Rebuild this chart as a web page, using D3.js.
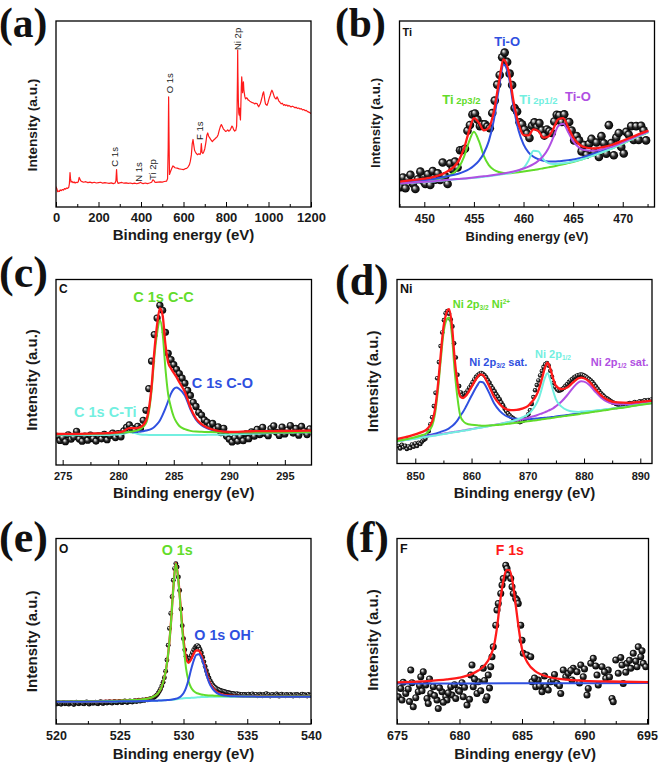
<!DOCTYPE html>
<html><head><meta charset="utf-8">
<script src="https://cdn.jsdelivr.net/npm/d3@7"></script>
<style>
body{margin:0;background:#fff;}
svg{display:block;font-family:"Liberation Sans",Arial,sans-serif;}
text{white-space:pre;}
</style></head><body>
<script>
// ---------------- DATA ----------------
// (a) survey spectrum [energy eV, intensity a.u.]
const aSpectrum = [[0,10.8],[4,9.8],[8,8.2],[12,8.6],[16,8.4],[20,9.2],[25,8.8],[30,9.4],[35,9.1],[40,9.9],[45,9.6],[50,10.2],[55,10.0],[60,10.6],[63,12.5],[66,18.5],[68,15.5],[71,13.4],[75,13.8],[80,13.1],[85,13.5],[90,12.9],[95,13.3],[100,13.1],[105,13.6],[109,15.9],[112,15.2],[116,14.1],[120,13.8],[130,13.3],[140,13.6],[150,13.1],[160,13.4],[170,13.0],[180,13.3],[190,12.9],[200,13.1],[210,13.3],[220,12.8],[230,13.1],[240,12.9],[250,12.7],[260,13.0],[270,12.6],[278,12.9],[282,14.2],[285,20.1],[288,14.0],[292,12.7],[300,13.0],[310,13.2],[320,12.8],[330,13.0],[340,12.7],[350,12.9],[360,12.6],[370,12.8],[380,12.5],[390,12.8],[398,13.3],[402,12.9],[410,12.6],[420,12.9],[430,12.6],[440,12.9],[450,13.3],[456,14.6],[460,14.4],[465,13.4],[470,13.2],[480,13.4],[490,13.5],[500,13.4],[510,13.7],[520,13.9],[525,15.2],[528,32],[530,59.2],[532,36],[534,17.5],[538,18.8],[545,20.8],[550,22.1],[555,21.6],[560,21.1],[570,20.9],[580,20.5],[590,20.3],[600,20.1],[608,20.6],[615,20.8],[622,21.6],[628,22.8],[632,24.5],[637,28],[641,34],[645,36.3],[648,33.5],[652,30.5],[656,29.6],[660,28.8],[666,28.1],[672,28.6],[678,28.2],[681,29.5],[684,34.1],[687,29.4],[691,28.8],[695,29.6],[700,31.2],[705,34.5],[710,38.6],[714,39.8],[718,38.2],[722,37.4],[727,36.5],[732,35.6],[736,35.2],[741,35.9],[746,36.4],[752,37.1],[758,37.7],[763,38.9],[768,41.2],[773,43.1],[778,44.3],[783,43.2],[788,41.9],[793,41.3],[798,40.6],[803,40.9],[808,41.5],[813,40.8],[818,41.1],[823,42.2],[828,43.5],[831,43.1],[836,41.6],[841,40.8],[846,41.2],[850,43.5],[852,52],[854,70],[855,84.4],[856,72],[858,58],[860,50.6],[862,49.4],[864,53.2],[866,48.9],[868,46.8],[870,55],[872,64],[874,70],[876,66],[878,61.5],[880,65.3],[882,67.3],[884,63],[886,61.4],[889,59.2],[892,58.1],[896,58.7],[900,58.4],[904,57.6],[907,57.4],[912,56.9],[918,56.5],[924,56.1],[930,55.9],[935,55.4],[940,55.8],[946,55.6],[950,54.6],[954,53.9],[958,54.8],[962,55.7],[966,57.4],[970,59.2],[974,61.2],[977,61.9],[980,59.6],[983,57.1],[986,55.4],[990,55],[993,54.7],[997,55.9],[1000,57.2],[1004,58.8],[1008,60.1],[1012,61.7],[1016,62.8],[1020,61.8],[1024,60.4],[1028,59],[1032,58.4],[1036,58.1],[1040,59.2],[1044,58.3],[1048,57.1],[1052,56.6],[1056,56],[1060,55.5],[1065,55.8],[1071,54.7],[1076,55.1],[1081,54.5],[1086,54.9],[1091,54.2],[1096,54.6],[1100,54.3],[1106,53.8],[1112,54.2],[1118,53.9],[1124,53.4],[1130,53.6],[1136,53],[1142,53.2],[1148,52.7],[1154,52.9],[1160,52.2],[1166,52.4],[1172,51.8],[1178,51.9],[1184,51.3],[1190,51],[1195,50.7],[1200,50.3]];
const aPeakLabels = [["C 1s",277.6,21.7],["N 1s",387.3,13.6],["Ti 2p",455,14.5],["O 1s",533.2,61.1],["F 1s",674.4,36],["Ni 2p",853.2,84.4]];

// (b) Ti 2p
const bGrid = [447.5,449,450.5,452,453,453.5,454,454.5,455,455.5,456,456.5,457,457.5,458,458.5,459,459.5,460,460.5,461,461.5,462,462.5,463,463.5,464,464.5,465,465.5,466,467,468,469,470,471,472.5];
const bTi2p32 = [12.8,13.4,14.2,16.0,18.5,21.5,27,35,40.5,35.5,27.5,22.5,20,18.8,18.3,18.2,18.4,18.7,19.1,19.5,19.9,20.3,20.8,21.3,21.8,22.4,23,23.6,24.2,25,25.8,27.7,29.6,31.7,34.1,36.6,40];
const bTiO1 = [13.1,13.9,14.7,16.1,17.3,18,19,20.3,22.2,24.8,28.9,35.4,46.5,63.1,76.6,70.4,53.7,41.1,33.7,29.4,27,25.7,24.9,24.5,24.5,24.6,24.9,25.2,25.5,26.1,26.8,28.5,30.3,32.2,34.6,37,40.4];
const bTi2p12 = [12.6,13.1,13.6,14.3,14.8,15,15.2,15.4,15.7,15.9,16.3,16.5,16.9,17.3,17.7,18.1,18.8,19.7,21,24.9,30.3,29.9,25.6,23.6,23.1,23.2,23.5,23.9,24.4,25.1,25.8,27.6,29.6,31.6,34.1,36.6,40];
const bTiO2 = [12.6,13.2,13.7,14.4,14.9,15.1,15.3,15.6,15.9,16.2,16.5,16.8,17.2,17.6,18,18.5,19.1,19.8,20.7,21.7,23,24.9,27.5,31.5,37.4,43.6,44.8,40.3,35.4,32.4,30.8,30.3,31.2,32.6,34.8,37.1,40.4];
const bFit = [13.6,14.6,15.7,18.2,21.7,25.2,31.5,40.7,47.8,45.3,41.2,42.6,51.1,66.4,79.3,73,56.6,44.7,38.7,38.5,41.7,40.8,37.3,37.9,42,47.2,47.8,42.8,37.5,34.2,32.4,31.5,32.2,33.6,35.6,37.8,40.9];
const bRawStart = 447.6, bRawStep = 0.25;
const bRaw = [10.7,15.9,10.1,15.2,17.3,12.5,9.7,14.9,19,14.2,12.4,17.6,11.8,19.3,14.7,18.1,14.5,23.9,16.5,12.4,23.3,20.2,24.4,21.2,30.5,30.6,31.3,41,44.1,49.7,50.3,47,43.5,44.4,44.5,43.2,42.3,50.5,57.2,65.8,71,80.5,83,78,71.7,65.6,53.2,51.3,45.5,44.5,41.7,39.5,37.1,43.7,45.5,43.1,45.1,41.3,38.4,41.7,40.7,39.8,46,49.6,49.3,45.7,49.8,45.3,45.7,41.1,35.8,38.2,35.8,29.9,33.3,28.1,33.9,36.6,29.6,34.7,26.9,38.1,34.3,28.7,44,34.4,27.8,37.3,39.8,32.3,28.8,40.4,38.9,43.5,36,43.5,36.1,43.7,41.2,35.8];

// (c) C 1s
const cGrid = [274.4,276,278,279,280,280.5,281,281.5,282,282.5,283,283.25,283.5,283.75,284,284.25,284.5,284.75,285,285.25,285.5,286,286.5,287,287.5,288,289,290,292,294,296,297.4];
const cCC = [16.5,16.6,16.8,17,17.3,17.5,17.8,18.3,19.5,22.5,40,58,71,78,71,52,38,31,26,23,21,19.3,18.4,18,17.9,17.8,17.6,17.5,17.5,17.5,17.6,17.7];
const cCO = [16.5,16.6,16.8,17,17.2,17.4,17.9,17.8,18,18.6,19.5,20.5,22,24,27,30.5,34.5,38.5,41,41.8,41,37.5,30,24.5,21.5,19.8,18.2,17.8,17.5,17.5,17.6,17.7];
const cCTi = [16,16.1,16.2,16.2,16.4,16.8,17.6,17.2,16.5,16.3,16.2,16.2,16.2,16.2,16.2,16.2,16.2,16.2,16.2,16.2,16.2,16.2,16.2,16.2,16.2,16.25,16.3,16.4,16.8,17.2,17.5,17.7];
const cFit = [16.7,16.8,17,17.2,17.6,18.3,19.9,19.8,20.5,23.9,42.1,61.1,75.6,84.6,80.6,65.1,55.1,52.1,49.6,47.4,44.6,39.4,31,25.1,22,20.2,18.4,17.8,18.2,18.3,18.4,18.5];
const cRawStart = 274.5, cRawStep = 0.25;
const cRaw = [15.5,13.2,14.8,12.6,16.3,13.9,15.1,18.2,14.0,12.8,15.6,13.4,16.1,14.2,12.9,15.8,14.1,16.5,13.6,15.9,17.2,14.8,16.9,15.2,18.4,20.3,21.6,19.8,18.6,20.9,19.6,24.1,29.5,41.2,56,70.3,79.2,86.1,83.4,71.5,60.2,56.8,54.1,51.6,49.3,46.8,44.1,40.2,37.5,33.8,31.6,28.4,26.9,24.3,23.1,21.2,22.4,19.5,20.6,17.4,19.8,15.6,13.9,12.4,14.7,12.9,15.3,13.1,16.8,14.2,17.9,15.5,19.2,16.4,20.3,17.1,15.8,19.6,21.1,17.6,15.9,20.4,16.7,18.9,21.3,17.2,19.7,16.1,20.8,18.3,16.4,19.5];

// (d) Ni 2p
const dGrid = [846.75,849,851,852,853,853.5,854,854.5,855,855.5,856,856.5,857,857.5,858,858.5,859,860,861,861.5,862,863,864,865,866,867,868,869,870,871,871.5,872,872.5,873,873.5,874,874.5,875,876,877,878,879,879.5,880,881,882,883,884,885,886,888,890,892.08];
const dNi2p32 = [12.2,13.6,15.2,16.5,20.6,26.8,39,55.3,70.5,77.7,79.4,70.2,50.4,35.6,25.9,23.1,21.8,21,20.8,20.6,20.5,20.6,20.8,21,21.4,21.7,22.1,22.5,22.9,23.3,23.5,23.8,24,24.2,24.4,24.6,24.8,25.1,25.5,26,26.4,26.8,27.1,27.3,27.7,28.2,28.6,29.1,29.6,30,30.9,31.9,32.8];
const dSat32 = [12.1,13.25,14.4,15.1,15.8,16.2,16.6,17.2,17.7,18.3,19.1,20.2,21.6,23.4,25.9,28.1,30.8,36.8,42.3,44.4,44.2,39.2,32.7,28.6,26.1,24.8,24.3,24.1,24.1,24.3,24.4,24.6,24.7,24.8,25,25.2,25.3,25.6,25.9,26.3,26.8,27.1,27.4,27.6,28,28.5,28.9,29.3,29.8,30.2,31.1,32.1,32.9];
const dNi2p12 = [12,13,14,14.5,15,15.2,15.5,15.8,16,16.2,16.5,16.8,17,17.2,17.5,17.8,18,18.6,19.2,19.4,19.7,20.3,20.9,21.4,22.1,22.8,23.8,25,26.6,29.9,32.3,35.7,40.8,46.2,49.1,45.4,39.5,34.9,30.9,29,28.2,28,28.2,28.3,28.5,28.8,29.1,29.5,29.9,30.25,31.05,32,32.85];
const dSat12 = [12.1,13.15,14.1,14.65,15.2,15.4,15.65,16,16.2,16.4,16.7,17,17.2,17.4,17.7,17.9,18.15,18.7,19.3,19.55,19.8,20.4,21,21.5,22.1,22.7,23.4,24.1,24.8,25.7,26.1,26.7,27.2,27.8,28.5,29.2,30,31.1,33.7,37.1,41,44.1,44.7,44.5,42.5,39,35.9,33.7,32.6,32.2,32.2,32.7,33.4];
const dFit = [13.3,14.9,16.9,18.45,22.85,29.3,41.75,58.4,73.9,81.5,83.95,75.6,57,43.8,36.3,35.6,36.85,41.7,46.7,48.45,48.1,42.9,36.3,32.2,29.8,29,29.1,29.8,31.2,34.5,37,40.6,45.9,51.6,54.8,51.6,46.2,42.3,40.4,41.3,43.9,46.3,46.7,46.35,44.2,40.5,37.2,34.9,33.6,33.2,33,33.5,34.1];
const dRawStart = 847, dRawStep = 0.3;
const dRaw = [9.5,8.2,10.1,8.8,9.6,7.9,9.2,8.4,10.3,9.1,10.8,9.5,11.2,10.6,11.9,12.8,13.5,15.2,17.6,21.3,25.1,31.2,38.4,46.3,55.1,63.8,71.2,77.9,81.6,82.8,81.4,78.2,74.5,65.3,57.6,48.2,42.1,38.6,37.2,37.9,38.4,39.6,41.2,42.5,44.1,45.6,47.1,47.9,48.7,49.2,48.8,47.9,46.8,45.2,43.9,42.1,40.8,39.2,37.6,36.3,34.9,33.1,31.6,29.8,28.4,27.2,26.1,25.3,24.6,23.9,23.2,22.8,22.5,22.9,23.4,24.1,25.2,26.8,28.9,32.4,36.1,39.8,42.6,45.1,47.8,50.3,52.4,53.9,54.6,53.2,50.4,47.1,43.8,41.5,40.2,39.6,39.8,40.3,41.1,42.2,43.1,44.2,45.1,45.9,46.7,47.2,47.8,48.1,48.3,48.2,47.8,47.3,46.6,45.9,45.1,44.2,43.1,41.8,40.6,39.4,38.2,37.3,36.4,35.6,35.1,34.5,33.8,33.2,32.9,32.4,32.1,31.8,31.6,31.9,32.2,31.7,32.4,32.8,32.1,32.9,33.4,32.7,33.1,33.8,33.2,33.9,34.3,33.7,34.5,34.1,34.8];

// (e) O 1s
const eGrid = [520,522,524,525,526,527,527.5,528,528.25,528.5,528.75,529,529.2,529.4,529.6,529.8,530,530.2,530.4,530.6,530.8,531,531.2,531.4,531.6,531.8,532,532.3,532.6,533,533.5,534,535,536,538,540];
const eBackground = [12,12,12.1,12.2,12.3,12.4,12.5,12.6,12.7,12.8,12.9,13,13.1,13.3,13.5,13.7,13.85,13.95,14,14.1,14.2,14.3,14.4,14.5,14.55,14.6,14.65,14.7,14.7,14.7,14.7,14.7,14.7,14.7,14.7,14.7];
const eO1s = [12.1,12.2,12.4,12.6,12.9,13.5,14.3,16.5,19.5,25,35,53,73,86.5,77,60,43,30,23,19.5,17.8,16.8,16.3,15.9,15.7,15.5,15.4,15.3,15.2,15.1,15,14.95,14.9,14.85,14.8,14.8];
const eOH = [12,12,12.1,12.2,12.3,12.4,12.5,12.6,12.7,12.8,12.9,13.1,13.3,13.6,14.1,15,16.6,19.5,24,29.5,34.2,37.2,37.6,35.6,31.5,26.7,22.5,18.8,16.8,15.6,15.1,14.9,14.8,14.75,14.7,14.7];
const eFit = [12.1,12.2,12.4,12.6,12.9,13.5,14.3,16.5,19.5,25,35,53.1,73.2,86.8,77.6,61.3,45.75,35.55,33,34.9,37.8,39.7,39.5,37,32.65,27.6,23.25,19.4,17.3,16,15.4,15.15,15,14.9,14.8,14.8];
const eRawStart = 520, eRawStep = 0.1;
const eRaw = [11.2,10.8,11.5,11.0,10.6,11.3,11.7,10.9,11.1,11.4,10.7,11.2,11.6,11.0,10.5,11.3,11.8,11.1,10.9,11.4,11.6,11.0,10.8,11.5,11.9,11.2,10.7,11.3,11.6,11.1,11.4,11.8,11.1,10.9,11.5,12.0,11.3,11.0,11.6,11.9,11.3,11.7,12.1,11.5,11.2,11.8,12.2,11.6,11.4,11.9,12.2,11.7,11.5,12.0,12.4,11.9,11.6,12.1,12.5,12.0,11.8,12.3,12.6,12.1,12.4,12.8,12.3,12.6,13.0,12.7,12.9,13.2,13.0,13.4,13.7,13.5,14.0,14.4,14.9,15.6,16.5,17.6,18.9,20.5,22.5,25,28.5,34.5,42.5,51.5,59.6,68.6,77.5,83.8,86.5,84.7,79.3,72,62,53,46,40,36.5,35,34.6,35.5,36.8,38.5,40,41.2,42,42.3,41.6,40.2,38.3,36,33.5,31,28.7,26.6,24.8,23.3,22,21,20.2,19.6,19.1,18.7,18.4,18.1,17.9,17.7,17.5,17.3,17.1,16.9,16.7,16.6,16.5,16.4,16.2,16.0,16.3,15.8,16.1,15.6,16.0,15.4,15.9,15.7,15.5,16.1,15.3,15.8,16.2,15.4,15.7,16.0,15.2,15.6,16.1,15.5,15.2,15.9,15.6,16.3,15.4,15.8,15.1,15.7,16.0,15.3,15.6,16.2,15.5,15.0,15.8,16.1,15.4,15.7,15.2,15.9,15.6,15.3,16.0,15.5,15.1,15.8,15.4,15.9,15.6,15.2,15.7,16.1,15.3,15.8,15.5,15.1,15.9,15.4,15.6];

// (f) F 1s
const fGrid = [675,677,679,680,681,681.5,682,682.5,682.75,683,683.25,683.5,683.75,684,684.25,684.5,684.75,685,685.5,686,686.5,687,688,689,690,692,695.12];
const fFit = [22.4,23,24,25,27,28.8,31.5,37,42,52,66,77,83,83,76.5,64,51,40.5,32.5,28.8,26.8,25.6,24.3,23.7,23.3,22.9,22.6];
const fBaseX = [675,685,695.12];
const fBaseY = [21.8,21.95,22.1];
const fRawX = [675.1,675.3,675.4,675.7,676.1,676.2,676.3,676.7,676.9,677.1,677.3,677.4,677.5,677.7,677.9,678.2,678.3,678.6,678.9,679,679.3,679.4,679.7,679.9,680.2,680.3,680.6,680.9,681,681.1,681.4,681.5,681.9,682.1,682.2,682.3,682.5,682.6,682.7,682.9,683,683.1,683.3,683.4,683.5,683.7,683.8,683.9,684.1,684.2,684.3,684.5,684.6,684.7,684.9,685,685.1,685.4,685.7,685.8,686.1,686.3,686.6,686.9,687.1,687.3,687.5,687.8,688.1,688.3,688.5,688.7,689,689.1,689.4,689.7,689.9,690.2,690.3,690.5,690.7,691,691.1,691.4,691.7,691.9,692.2,692.3,692.5,692.7,693,693.1,693.4,693.7,693.9,694.2,694.3,694.5,694.7,694.9,675.5,675.9,676.0,676.5,676.8,677.0,677.6,678.0,678.4,678.7,679.1,679.6,680.0,680.4,680.8,681.2,681.7,682.0,682.4,686.0,686.4,686.8,687.6,688.0,688.9,689.6,690.0,690.9,691.6,692.0,692.9,693.3,693.6,694.1,694.6];
const fRawY = [14.7,19.2,12.9,16.5,29.1,22.3,9.3,17.4,25.5,28.2,21,13.8,11.1,16.5,20.1,12.9,8.4,17.4,14.7,12.9,20.1,15.6,13.8,18.3,22.3,14.7,10.2,26.4,31.8,20.1,16.5,22.8,30,12.9,14.7,26.4,30.9,36.3,41.6,53.3,61.4,65,70.4,74.9,78.4,85.6,83.8,80.2,78.4,74,70.4,67.7,66.8,65,53.3,45.2,38.1,37.2,36.3,22.8,20.1,23.7,17.4,20.1,18.3,22.8,23.7,21.9,16.5,29.1,25.5,27.3,23.7,30,28.2,31.8,25.5,15.6,19.2,32.7,35.4,26.4,21,30.9,24.6,29.1,13.8,12,34.5,27.3,31.8,21.9,32.7,30,38.1,30.9,41.6,36.3,32.7,30.9,22.5,18.9,12.1,14.2,20.8,17.9,24.3,15.3,19.5,11.7,16.8,21.2,17.6,19.8,13.3,24.2,17.9,23.5,19.4,24.8,20.5,25.9,26.7,20.6,28.9,22.1,29.7,31.3,28.1,25.4,35.8,27.9,34.3,33.9,39.5];

// tick values
const aMajor = [0,200,400,600,800,1000,1200], aMinor = [100,300,500,700,900,1100];
const bMajor = [450,455,460,465,470], bMinor = [447.5,452.5,457.5,462.5,467.5,472.5];
const cMajor = [275,280,285,290,295], cMinor = [277.5,282.5,287.5,292.5];
const dMajor = [850,860,870,880,890], dMinor = [855,865,875,885];
const eMajor = [520,525,530,535,540], eMinor = [522.5,527.5,532.5,537.5];
const fMajor = [675,680,685,690,695], fMinor = [677.5,682.5,687.5,692.5];

// ---------------- DRAWING ----------------
const C = {red:"#ff1a1a", green:"#62dc2a", blue:"#2f50e0", cyan:"#72efe0", magenta:"#b04fe2"};
const SANS = "'Liberation Sans', Arial, sans-serif";
const svg = d3.select("body").append("svg").attr("width",661).attr("height",763);
const defs = svg.append("defs");
const grad = defs.append("radialGradient").attr("id","sph").attr("cx","0.5").attr("cy","0.5").attr("r","0.5").attr("fx","0.33").attr("fy","0.3");
[[0,"#ffffff"],[0.22,"#b8b8b8"],[0.55,"#2c2c2c"],[1,"#000000"]].forEach(([o,c])=>grad.append("stop").attr("offset",o).attr("stop-color",c));

function makePanel(p){
  const x = d3.scaleLinear().domain(p.domain).range([p.left,p.right]);
  const y = d3.scaleLinear().domain([0,100]).range([p.bottom,p.top]);
  const g = svg.append("g");
  defs.append("clipPath").attr("id","clip"+p.id).append("rect")
    .attr("x",p.left).attr("y",p.top).attr("width",p.right-p.left).attr("height",p.bottom-p.top);
  const plot = g.append("g").attr("clip-path",`url(#clip${p.id})`);
  const ax = d3.axisBottom(x).tickValues(p.major).tickSize(-5).tickSizeOuter(0).tickPadding(p.pad).tickFormat(d3.format("d"));
  const ga = g.append("g").attr("transform",`translate(0,${p.bottom})`).call(ax);
  ga.select(".domain").remove();
  ga.selectAll("line").attr("stroke","#000").attr("stroke-width",1);
  ga.selectAll("text").attr("font-family",SANS).attr("font-weight","bold").attr("font-size",p.tickFont).attr("fill","#1a1a1a");
  const axm = d3.axisBottom(x).tickValues(p.minor).tickSize(-3).tickSizeOuter(0).tickFormat("");
  const gm = g.append("g").attr("transform",`translate(0,${p.bottom})`).call(axm);
  gm.select(".domain").remove();
  gm.selectAll("line").attr("stroke","#000").attr("stroke-width",1);
  g.append("rect").attr("x",p.left).attr("y",p.top).attr("width",p.right-p.left).attr("height",p.bottom-p.top)
    .attr("fill","none").attr("stroke","#000").attr("stroke-width",1.3);
  g.append("text").attr("x",(p.left+p.right)/2+p.xtDx).attr("y",p.xtY).attr("text-anchor","middle")
    .attr("font-family",SANS).attr("font-weight","bold").attr("font-size",p.xtSize).attr("fill","#1a1a1a").text("Binding energy (eV)");
  g.append("text").attr("transform",`translate(${p.ytX},${p.ytY}) rotate(-90)`).attr("dy","0.36em").attr("text-anchor","middle")
    .attr("font-family",SANS).attr("font-weight","bold").attr("font-size",p.ytSize).attr("fill","#1a1a1a").text("Intensity (a.u.)");
  svg.append("text").attr("x",p.lx).attr("y",p.ly).attr("font-family","'Liberation Serif','Times New Roman',serif")
    .attr("font-weight","bold").attr("font-size",p.lSize||44).attr("fill","#111").text(`(${p.id})`);
  if (p.elem) g.append("text").attr("x",p.left+3).attr("y",p.elemY).attr("font-family",SANS).attr("font-weight","bold")
    .attr("font-size",p.elemSize).attr("fill","#111").text(p.elem);
  return {x,y,g,plot};
}
function line(P, xs, ys, color, w, curve){
  const pts = xs.map((v,i)=>[v,ys[i]]);
  P.plot.append("path").datum(pts).attr("fill","none").attr("stroke",color).attr("stroke-width",w)
    .attr("stroke-linejoin","round").attr("stroke-linecap","round")
    .attr("d", d3.line().x(d=>P.x(d[0])).y(d=>P.y(d[1])).curve(curve||d3.curveMonotoneX));
}
function dotsGrid(P, start, step, ys, r){
  dots(P, ys.map((_,i)=>start+i*step), ys, r);
}
function dots(P, xs, ys, r){
  P.plot.append("g").selectAll("circle").data(xs.map((v,i)=>[v,ys[i]])).join("circle")
    .attr("cx",d=>P.x(d[0])).attr("cy",d=>P.y(d[1])).attr("r",r).attr("fill","url(#sph)");
}
function rich(P, x, y, color, parts){
  const t = P.g.append("text").attr("x",x).attr("y",y).attr("fill",color).attr("font-family",SANS).attr("font-weight","bold");
  parts.forEach(p=>{ const s=t.append("tspan").attr("font-size",p.s).text(p.t); if(p.dy) s.attr("dy",p.dy); });
}

// (a)
const A = makePanel({id:"a",domain:[0,1200],left:56,right:311,top:21,bottom:207,major:aMajor,minor:aMinor,tickFont:13,pad:5.3,
  xtDx:0,xtY:240,xtSize:15,ytX:31.7,ytY:125,ytSize:13.7,lx:-1,ly:37,lSize:41.5});
line(A, aSpectrum.map(d=>d[0]), aSpectrum.map(d=>d[1]), C.red, 1.2, d3.curveLinear);
aPeakLabels.forEach(([t,e,v])=>{
  A.g.append("text").attr("transform",`translate(${A.x(e)},${A.y(v)}) rotate(-90)`).attr("dy","0.35em")
    .attr("font-family",SANS).attr("font-size",9.5).attr("fill","#222").text(t);
});

// (b)
const B = makePanel({id:"b",domain:[447.5,473.2],left:399.5,right:654.5,top:21,bottom:207,major:bMajor,minor:bMinor,tickFont:12,pad:7.5,
  xtDx:0,xtY:241,xtSize:13,ytX:375,ytY:123,ytSize:13.3,lx:335,ly:37,lSize:41.5,elem:"Ti",elemY:36,elemSize:11});
dotsGrid(B, bRawStart, bRawStep, bRaw, 4.3);
line(B, bGrid, bTi2p32, C.green, 2);
line(B, bGrid, bTiO1, C.blue, 2);
line(B, bGrid, bTi2p12, C.cyan, 2);
line(B, bGrid, bTiO2, C.magenta, 2);
line(B, bGrid, bFit, C.red, 2.3);
rich(B, 494.3, 46, C.blue, [{t:"Ti-O",s:13}]);
rich(B, 442.3, 104, C.green, [{t:"Ti",s:13},{t:" 2p3/2",s:9.5}]);
rich(B, 519.3, 104, C.cyan, [{t:"Ti",s:13},{t:" 2p1/2",s:9.5}]);
rich(B, 565, 100.7, C.magenta, [{t:"Ti-O",s:13}]);

// (c)
const Cp = makePanel({id:"c",domain:[274.4,297.4],left:56,right:311.5,top:279.5,bottom:465,major:cMajor,minor:cMinor,tickFont:11,pad:7.2,
  xtDx:0,xtY:498,xtSize:15,ytX:31.7,ytY:380,ytSize:15,lx:-1,ly:287,elem:"C",elemY:292.5,elemSize:12});
dotsGrid(Cp, cRawStart, cRawStep, cRaw, 3.6);
line(Cp, cGrid, cCTi, C.cyan, 2);
line(Cp, cGrid, cCO, C.blue, 2);
line(Cp, cGrid, cCC, C.green, 2);
line(Cp, cGrid, cFit, C.red, 2.3);
rich(Cp, 133.3, 301.7, C.green, [{t:"C 1s C-C",s:14.5}]);
rich(Cp, 191.7, 388.3, C.blue, [{t:"C 1s C-O",s:14.5}]);
rich(Cp, 74, 416.7, C.cyan, [{t:"C 1s C-Ti",s:14.5}]);

// (d)
const D = makePanel({id:"d",domain:[846.75,892.08],left:397,right:652,top:279.5,bottom:463.5,major:dMajor,minor:dMinor,tickFont:11,pad:8.5,
  xtDx:0,xtY:498,xtSize:15,ytX:372.7,ytY:381.3,ytSize:15,lx:335,ly:295,elem:"Ni",elemY:293,elemSize:12.5});
dotsGrid(D, dRawStart, dRawStep, dRaw, 2.3);
line(D, dGrid, dSat32, C.blue, 2);
line(D, dGrid, dSat12, C.magenta, 2);
line(D, dGrid, dNi2p12, C.cyan, 2);
line(D, dGrid, dNi2p32, C.green, 2);
line(D, dGrid, dFit, C.red, 2.3);
rich(D, 452.7, 308.3, C.green, [{t:"Ni 2p",s:11},{t:"3/2",s:6.5,dy:2},{t:" Ni",s:11,dy:-2},{t:"2+",s:6.5,dy:-4}]);
rich(D, 469.3, 365.7, C.blue, [{t:"Ni 2p",s:11},{t:"3/2",s:6.5,dy:2},{t:" sat.",s:11,dy:-2}]);
rich(D, 535, 358.3, C.cyan, [{t:"Ni 2p",s:11},{t:"1/2",s:6.5,dy:2}]);
rich(D, 590.7, 365.7, C.magenta, [{t:"Ni 2p",s:11},{t:"1/2",s:6.5,dy:2},{t:" sat.",s:11,dy:-2}]);

// (e)
const E = makePanel({id:"e",domain:[520,540],left:56,right:311,top:538.5,bottom:724,major:eMajor,minor:eMinor,tickFont:12.5,pad:7.1,
  xtDx:0,xtY:759,xtSize:15,ytX:31.7,ytY:641.3,ytSize:15,lx:-1,ly:552,elem:"O",elemY:553,elemSize:12});
dotsGrid(E, eRawStart, eRawStep, eRaw, 2.4);
line(E, eGrid, eBackground, C.cyan, 2);
line(E, eGrid, eFit, C.red, 2.3);
line(E, eGrid, eO1s, C.green, 2);
line(E, eGrid, eOH, C.blue, 2);
rich(E, 161.7, 555, C.green, [{t:"O 1s",s:14.3}]);
rich(E, 194.3, 640, C.blue, [{t:"O 1s OH",s:14.3},{t:"-",s:9,dy:-6}]);

// (f)
const F = makePanel({id:"f",domain:[675,695.12],left:397,right:648.5,top:538.5,bottom:724,major:fMajor,minor:fMinor,tickFont:12.5,pad:7.6,
  xtDx:2.3,xtY:758.5,xtSize:15,ytX:372.7,ytY:640,ytSize:15,lx:345,ly:552,elem:"F",elemY:553,elemSize:12.5});
dots(F, fRawX, fRawY, 3.5);
line(F, fBaseX, fBaseY, C.blue, 2);
line(F, fGrid, fFit, C.red, 2.3);
rich(F, 495.7, 555, C.red, [{t:"F 1s",s:14}]);
</script>
</body></html>
